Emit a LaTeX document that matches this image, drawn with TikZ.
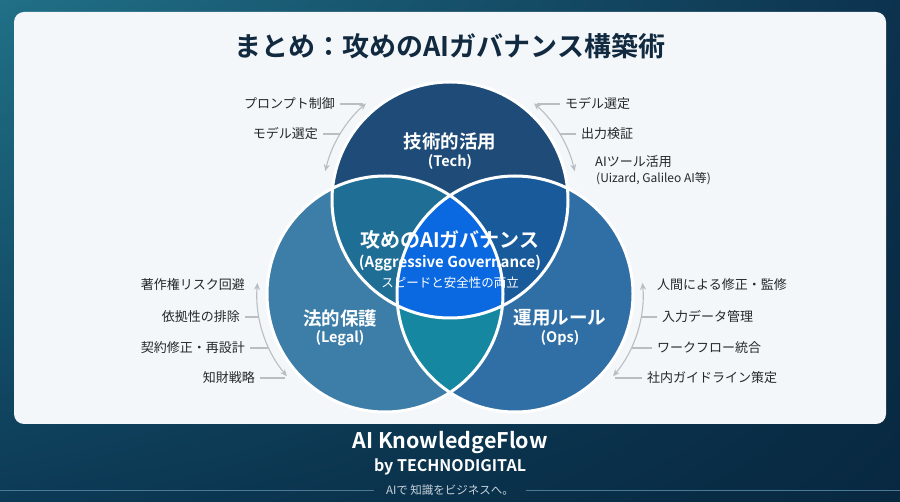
\documentclass[tikz,border=0pt]{standalone}
\usepackage{fontspec}
\setmainfont{Noto Sans CJK JP}[BoldFont={Noto Sans CJK JP Bold}]
\usetikzlibrary{arrows.meta,shadings}

\definecolor{bgtl}{RGB}{32,112,135}
\definecolor{bgtr}{RGB}{12,50,78}
\definecolor{bgbl}{RGB}{12,58,86}
\definecolor{bgbr}{RGB}{8,40,64}
\definecolor{cardbg}{RGB}{243,247,250}
\definecolor{titleink}{RGB}{17,42,64}
\definecolor{noteink}{RGB}{36,40,44}
\definecolor{linkgray}{RGB}{185,190,195}
\definecolor{techblue}{RGB}{30,75,120}
\definecolor{legalblue}{RGB}{61,126,168}
\definecolor{opsblue}{RGB}{47,111,166}
\definecolor{techlegal}{RGB}{30,110,150}
\definecolor{techops}{RGB}{25,90,155}
\definecolor{legalops}{RGB}{22,135,160}
\definecolor{coreblue}{RGB}{10,105,225}
\definecolor{tagink}{RGB}{200,212,220}
\definecolor{rule}{RGB}{74,122,149}

\begin{document}
\begin{tikzpicture}[x=1pt, y=-1pt,
        note/.style={text=noteink, font=\fontsize{13}{15}\selectfont, inner xsep=5pt, inner ysep=1pt},
        link/.style={draw=linkgray, line width=1.1pt},
        bendarrow/.style={link, {Stealth[length=7pt,width=6pt]}-{Stealth[length=7pt,width=6pt]}},
        ring/.style={draw=white, line width=3pt},
        setname/.style={text=white, font=\bfseries\fontsize{18.5}{20}\selectfont},
        setsub/.style={text=white, font=\bfseries\fontsize{14.5}{16}\selectfont}]
    \useasboundingbox (0,0) rectangle (900,502);
    % Background and card:
    \shade[upper left=bgtl, upper right=bgtr, lower left=bgbl, lower right=bgbr] (0,0) rectangle (900,502);
    \fill[cardbg, rounded corners=10pt] (14,12) rectangle (886,424);
    \node[text=titleink, font=\bfseries\fontsize{27}{31}\selectfont] (title) at (450,46) {まとめ：攻めのAIガバナンス構築術};

    % Circles:
    \coordinate (T) at (450,200);
    \coordinate (L) at (385,294);
    \coordinate (R) at (515,294);
    \fill[techblue] (T) circle[radius=118];
    \fill[legalblue] (L) circle[radius=118];
    \fill[opsblue] (R) circle[radius=118];
    \begin{scope}
        \clip (L) circle[radius=118];
        \fill[legalops] (R) circle[radius=118];
    \end{scope}
    \begin{scope}
        \clip (T) circle[radius=118];
        \fill[techlegal] (L) circle[radius=118];
        \fill[techops] (R) circle[radius=118];
        \clip (L) circle[radius=118];
        \fill[coreblue] (R) circle[radius=118];
    \end{scope}
    \draw[ring] (T) circle[radius=118] (L) circle[radius=118] (R) circle[radius=118];

    \node[setname] (tech) at (450,142) {技術的活用};
    \node[setsub] (techsub) at (450,162) {(Tech)};
    \node[setname] (legal) at (340,318) {法的保護};
    \node[setsub] (legalsub) at (340,338) {(Legal)};
    \node[setname] (ops) at (560,318) {運用ルール};
    \node[setsub] (opssub) at (560,338) {(Ops)};
    \node[text=white, font=\bfseries\fontsize{20}{22}\selectfont] (core) at (450,240) {攻めのAIガバナンス};
    \node[setsub, font=\bfseries\fontsize{15}{17}\selectfont] (coresub) at (450,263) {(Aggressive Governance)};
    \node[text=white, font=\fontsize{12.5}{14}\selectfont] (coretag) at (450,283) {スピードと安全性の両立};

    % Tech notes:
    \node[note, anchor=east] (tl1) at (340,104) {プロンプト制御};
    \node[note, anchor=east] (tl2) at (323,134) {モデル選定};
    \coordinate (tp1) at (363,104);
    \coordinate (tp2) at (340,134);
    \draw[bendarrow] (T) ++(-131:128) arc[start angle=-131, end angle=-167, radius=128];
    \draw[link] (tl1.east) -- (tp1);
    \draw[link] (tl2.east) -- (tp2);

    \node[note, anchor=west] (tr1) at (560,104) {モデル選定};
    \node[note, anchor=west] (tr2) at (576,134) {出力検証};
    \node[note, anchor=west] (tr3) at (590,162) {AIツール活用};
    \node[note, anchor=west, font=\fontsize{12}{14}\selectfont] (tr4) at (591,179) {(Uizard, Galileo AI等)};
    \coordinate (tq1) at (537,104);
    \coordinate (tq2) at (560,134);
    \draw[bendarrow] (T) ++(-49:128) arc[start angle=-49, end angle=-13, radius=128];
    \draw[link] (tr1.west) -- (tq1);
    \draw[link] (tr2.west) -- (tq2);

    % Legal notes:
    \node[note, anchor=east] (lb1) at (250,285) {著作権リスク回避};
    \node[note, anchor=east] (lb2) at (245,317) {依拠性の排除};
    \node[note, anchor=east] (lb3) at (250,348) {契約修正・再設計};
    \node[note, anchor=east] (lb4) at (260,378) {知財戦略};
    \coordinate (lp2) at (259,317);
    \coordinate (lp3) at (269,348);
    \coordinate (lp4) at (285,378);
    \draw[bendarrow] (L) ++(185:128) arc[start angle=185, end angle=140, radius=128];
    \draw[link] (lb2.east) -- (lp2);
    \draw[link] (lb3.east) -- (lp3);
    \draw[link] (lb4.east) -- (lp4);

    % Ops notes:
    \node[note, anchor=west] (rb1) at (652,285) {人間による修正・監修};
    \node[note, anchor=west] (rb2) at (657,317) {入力データ管理};
    \node[note, anchor=west] (rb3) at (652,348) {ワークフロー統合};
    \node[note, anchor=west] (rb4) at (642,378) {社内ガイドライン策定};
    \coordinate (rp2) at (641,317);
    \coordinate (rp3) at (631,348);
    \coordinate (rp4) at (615,378);
    \draw[bendarrow] (R) ++(-5:128) arc[start angle=-5, end angle=40, radius=128];
    \draw[link] (rb2.west) -- (rp2);
    \draw[link] (rb3.west) -- (rp3);
    \draw[link] (rb4.west) -- (rp4);

    % Footer:
    \node[text=white, font=\bfseries\fontsize{21.5}{24}\selectfont] (brand) at (450,443) {AI KnowledgeFlow};
    \node[text=white, font=\bfseries\fontsize{16}{18}\selectfont] (maker) at (450,467) {by TECHNODIGITAL};
    \node[text=tagink, font=\fontsize{11.5}{13}\selectfont, inner xsep=12pt] (tag) at (450,490) {AIで 知識をビジネスへ。};
    \coordinate (ruleL) at (0,490);
    \coordinate (ruleR) at (900,490);
    \draw[rule, line width=0.8pt] (ruleL) -- (tag.west) (tag.east) -- (ruleR);
\end{tikzpicture}
\end{document}
